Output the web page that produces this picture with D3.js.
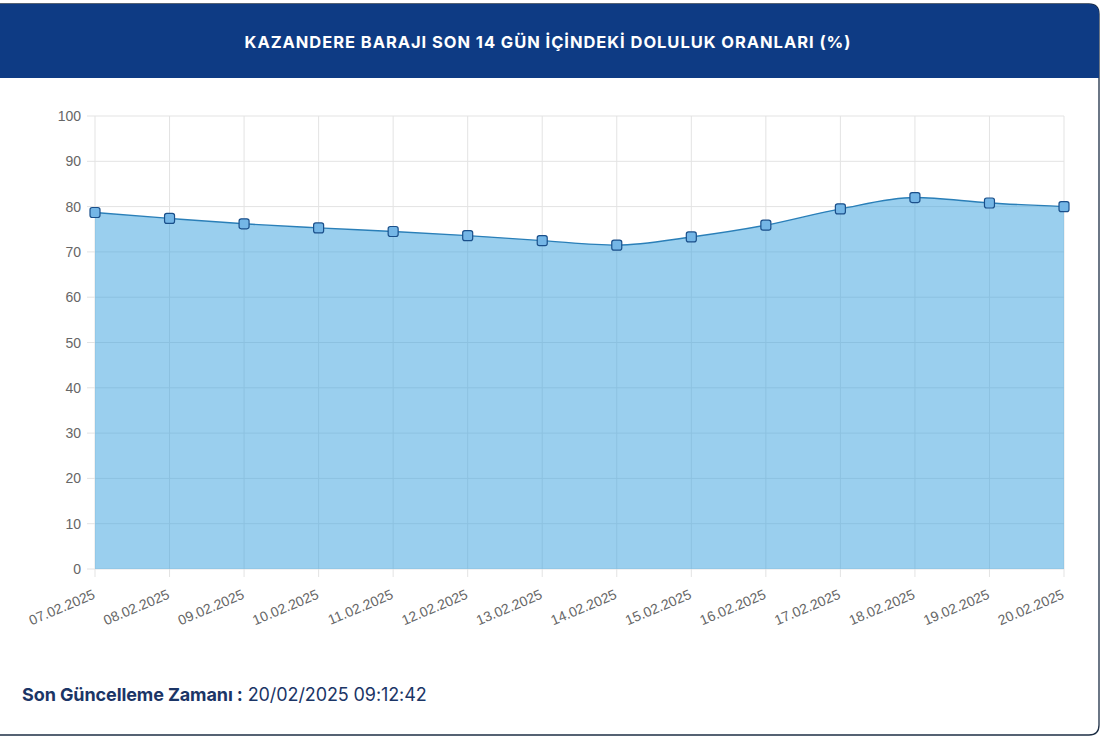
<!DOCTYPE html>
<html><head><meta charset="utf-8">
<script src="https://cdn.jsdelivr.net/npm/d3@7"></script>
<style>
html,body{margin:0;padding:0;background:#fff;width:1105px;height:740px;overflow:hidden;}
svg{display:block;}
</style></head>
<body>
<svg id="c" width="1105" height="740"></svg>
<script>
const dates = ["07.02.2025","08.02.2025","09.02.2025","10.02.2025","11.02.2025","12.02.2025","13.02.2025","14.02.2025","15.02.2025","16.02.2025","17.02.2025","18.02.2025","19.02.2025","20.02.2025"];
const values = [78.7,77.4,76.2,75.3,74.5,73.6,72.5,71.5,73.3,75.9,79.5,82.0,80.8,80.0];
const yTicks = [0,10,20,30,40,50,60,70,80,90,100];
const titleText = "KAZANDERE BARAJI SON 14 GÜN İÇİNDEKİ DOLULUK ORANLARI (%)";
const footLabel = "Son Güncelleme Zamanı :";
const footValue = " 20/02/2025 09:12:42";

const svg = d3.select("#c");
// card
svg.append("path")
  .attr("d", "M -12 4 H 1089 Q 1099 4 1099 14 V 725 Q 1099 735 1089 735 H -12 Z")
  .attr("fill", "#fff").attr("stroke", "#1e2f45").attr("stroke-width", 1.3);
svg.append("path")
  .attr("d", "M -12 4 H 1089 Q 1099 4 1099 14 V 78 H -12 Z")
  .attr("fill", "#0e3b84");
svg.append("text").attr("x", 548).attr("y", 48).attr("text-anchor","middle")
  .attr("font-family","Inter, 'Open Sans', sans-serif").attr("font-weight",700)
  .attr("font-size",16.5).attr("fill","#fff").attr("letter-spacing","0.95").text(titleText);

const x = d3.scalePoint().domain(dates).range([95,1064]);
const y = d3.scaleLinear().domain([0,100]).range([569,116]);

const g = svg.append("g");
// grid
g.selectAll("line.hg").data(yTicks).join("line")
  .attr("x1",87).attr("x2",1064).attr("y1",d=>y(d)).attr("y2",d=>y(d))
  .attr("stroke","#e3e3e3").attr("stroke-width",1);
g.selectAll("line.vg").data(dates).join("line")
  .attr("x1",d=>x(d)).attr("x2",d=>x(d)).attr("y1",116).attr("y2",577)
  .attr("stroke","#e3e3e3").attr("stroke-width",1);

const data = dates.map((d,i)=>({d, v: values[i]}));
const curve = d3.curveMonotoneX;
g.append("path").datum(data)
  .attr("d", d3.area().x(p=>x(p.d)).y0(y(0)).y1(p=>y(p.v)).curve(curve))
  .attr("fill","rgb(54,160,222)").attr("fill-opacity",0.5);
g.append("path").datum(data)
  .attr("d", d3.line().x(p=>x(p.d)).y(p=>y(p.v)).curve(curve))
  .attr("fill","none").attr("stroke","#2a7fb8").attr("stroke-width",1.4);
g.selectAll("rect.pt").data(data).join("rect")
  .attr("x",p=>x(p.d)-5).attr("y",p=>y(p.v)-5).attr("width",10).attr("height",10)
  .attr("rx",2.2).attr("fill","#74b6e6").attr("stroke","#1a4f8a").attr("stroke-width",1.2);

// y labels
g.selectAll("text.yl").data(yTicks).join("text")
  .attr("x",81).attr("y",d=>y(d)+5).attr("text-anchor","end")
  .attr("font-family","'Liberation Sans', Arial, sans-serif").attr("font-size",14).attr("fill","#666")
  .text(d=>d);
// x labels
g.selectAll("text.xl").data(dates).join("text")
  .attr("transform",d=>`translate(${x(d)+1},${598}) rotate(-23)`)
  .attr("text-anchor","end")
  .attr("font-family","'Liberation Sans', Arial, sans-serif").attr("font-size",14).attr("fill","#666")
  .text(d=>d);

// footer
const ft = svg.append("text").attr("x",22).attr("y",701)
  .attr("font-family","Inter, 'Open Sans', sans-serif").attr("font-size",18).attr("letter-spacing","-0.1").attr("fill","#1b3566");
ft.append("tspan").attr("font-weight",700).text(footLabel);
ft.append("tspan").attr("font-weight",400).text(footValue);
</script>
</body></html>
